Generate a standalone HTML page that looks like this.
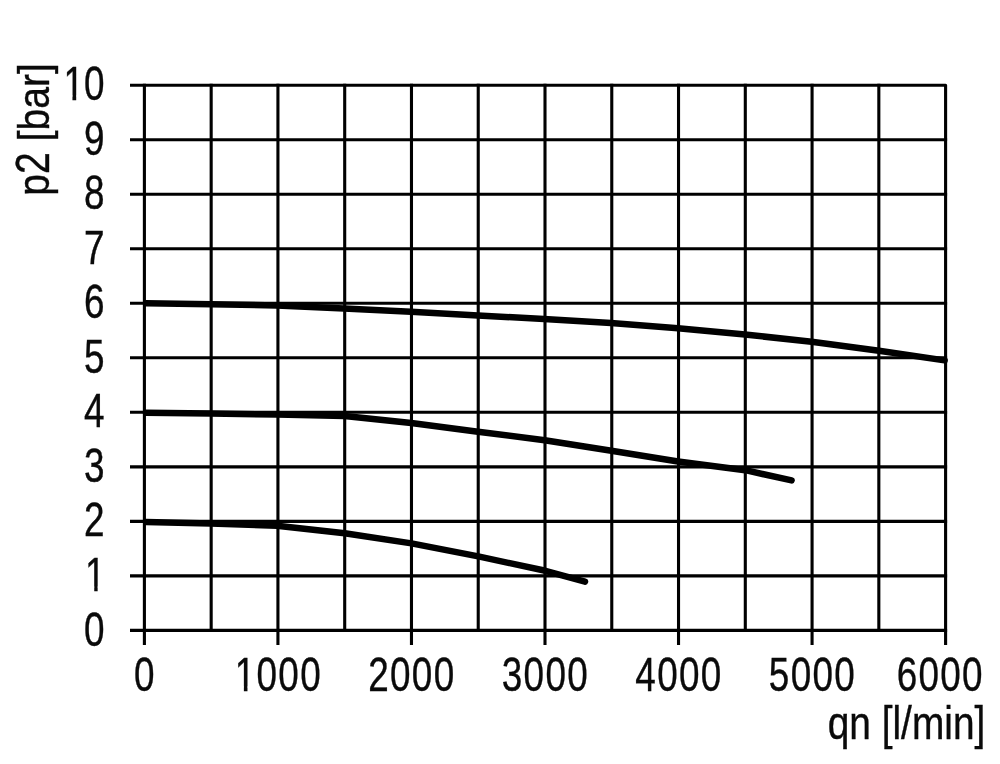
<!DOCTYPE html>
<html lang="en"><head><meta charset="utf-8"><title>p2 / qn chart</title>
<style>
html,body{margin:0;padding:0;background:#fff;}
body{width:1000px;height:764px;overflow:hidden;}
svg{display:block;will-change:transform;}
text{font-family:"Liberation Sans",sans-serif;font-size:46px;fill:#0a0a0a;stroke:#0a0a0a;stroke-width:0.4px;}
</style></head><body>
<svg width="1000" height="764" viewBox="0 0 1000 764">
<rect width="1000" height="764" fill="#ffffff"/>
<g stroke="#000" stroke-width="3.1" fill="none" stroke-linecap="butt">
<line x1="130" y1="630.40" x2="947.10" y2="630.40"/>
<line x1="130" y1="575.88" x2="947.10" y2="575.88"/>
<line x1="130" y1="521.36" x2="947.10" y2="521.36"/>
<line x1="130" y1="466.84" x2="947.10" y2="466.84"/>
<line x1="130" y1="412.32" x2="947.10" y2="412.32"/>
<line x1="130" y1="357.80" x2="947.10" y2="357.80"/>
<line x1="130" y1="303.28" x2="947.10" y2="303.28"/>
<line x1="130" y1="248.76" x2="947.10" y2="248.76"/>
<line x1="130" y1="194.24" x2="947.10" y2="194.24"/>
<line x1="130" y1="139.72" x2="947.10" y2="139.72"/>
<polyline stroke-linejoin="round" points="130,85.20 945.60,85.20 945.60,645"/>
<line x1="144.40" y1="83.70" x2="144.40" y2="645.00"/>
<line x1="211.17" y1="83.70" x2="211.17" y2="631.90"/>
<line x1="277.93" y1="83.70" x2="277.93" y2="645.00"/>
<line x1="344.70" y1="83.70" x2="344.70" y2="631.90"/>
<line x1="411.47" y1="83.70" x2="411.47" y2="645.00"/>
<line x1="478.23" y1="83.70" x2="478.23" y2="631.90"/>
<line x1="545.00" y1="83.70" x2="545.00" y2="645.00"/>
<line x1="611.77" y1="83.70" x2="611.77" y2="631.90"/>
<line x1="678.53" y1="83.70" x2="678.53" y2="645.00"/>
<line x1="745.30" y1="83.70" x2="745.30" y2="631.90"/>
<line x1="812.07" y1="83.70" x2="812.07" y2="645.00"/>
<line x1="878.83" y1="83.70" x2="878.83" y2="631.90"/>
</g>
<g stroke="#000" stroke-width="6.5" fill="none" stroke-linecap="round" stroke-linejoin="round">
<polyline points="146.0,303.3 211.0,304.2 277.0,305.5 344.0,308.4 411.0,311.8 478.0,315.4 544.0,319.0 611.0,323.1 678.0,328.2 745.0,334.5 811.6,341.8 879.0,350.7 944.6,360.4"/>
<polyline points="146.0,412.7 210.5,413.6 277.0,414.5 344.6,416.1 411.3,423.0 478.0,431.7 544.7,440.2 611.4,450.8 678.1,461.5 745.3,470.2 791.6,480.4"/>
<polyline points="146.0,522.0 210.5,523.6 277.0,525.7 344.7,533.3 411.5,543.4 478.3,556.4 545.4,570.8 585.0,581.7"/>
</g>
<text style="font-size:48.2px" transform="translate(104.4,645.50) scale(0.765,1)" text-anchor="end">0</text>
<text style="font-size:48.2px" transform="translate(105.4,590.98) scale(0.765,1)" text-anchor="end">1</text>
<text style="font-size:48.2px" transform="translate(104.4,536.46) scale(0.765,1)" text-anchor="end">2</text>
<text style="font-size:48.2px" transform="translate(104.4,481.94) scale(0.765,1)" text-anchor="end">3</text>
<text style="font-size:48.2px" transform="translate(104.4,427.42) scale(0.765,1)" text-anchor="end">4</text>
<text style="font-size:48.2px" transform="translate(104.4,372.90) scale(0.765,1)" text-anchor="end">5</text>
<text style="font-size:48.2px" transform="translate(104.4,318.38) scale(0.765,1)" text-anchor="end">6</text>
<text style="font-size:48.2px" transform="translate(104.4,263.86) scale(0.765,1)" text-anchor="end">7</text>
<text style="font-size:48.2px" transform="translate(104.4,209.34) scale(0.765,1)" text-anchor="end">8</text>
<text style="font-size:48.2px" transform="translate(104.4,154.82) scale(0.765,1)" text-anchor="end">9</text>
<text style="font-size:48.2px" transform="translate(104.4,100.30) scale(0.765,1)" text-anchor="end">10</text>
<text style="font-size:48.8px;letter-spacing:1.7px" transform="translate(144.80,691.2) scale(0.756,1)" text-anchor="middle">0</text>
<text style="font-size:48.8px;letter-spacing:1.7px" transform="translate(278.33,691.2) scale(0.756,1)" text-anchor="middle">1000</text>
<text style="font-size:48.8px;letter-spacing:1.7px" transform="translate(411.87,691.2) scale(0.756,1)" text-anchor="middle">2000</text>
<text style="font-size:48.8px;letter-spacing:1.7px" transform="translate(545.40,691.2) scale(0.756,1)" text-anchor="middle">3000</text>
<text style="font-size:48.8px;letter-spacing:1.7px" transform="translate(678.93,691.2) scale(0.756,1)" text-anchor="middle">4000</text>
<text style="font-size:48.8px;letter-spacing:1.7px" transform="translate(812.47,691.2) scale(0.756,1)" text-anchor="middle">5000</text>
<text style="font-size:48.8px;letter-spacing:1.7px" transform="translate(940.30,691.2) scale(0.756,1)" text-anchor="middle">6000</text>
<text style="font-size:43.7px" transform="translate(48.6,195.7) rotate(-90) scale(0.895,1)">p<tspan style="font-size:48.7px" textLength="24.30" lengthAdjust="spacingAndGlyphs">2</tspan> [bar]</text>
<text style="font-size:46.2px" transform="translate(985.3,738.6) scale(0.841,1)" text-anchor="end">qn [l/min]</text>
<g fill="#ffffff" stroke="none">
<rect x="65.00" y="95.5" width="7.45" height="6.0"/>
<rect x="76.20" y="95.5" width="7.30" height="6.0"/>
<rect x="86.00" y="586.5" width="8.24" height="6.0"/>
<rect x="97.64" y="586.5" width="6.86" height="6.0"/>
<rect x="236.00" y="686.5" width="7.87" height="6.0"/>
<rect x="247.47" y="686.5" width="7.03" height="6.0"/>
</g>
</svg></body></html>
